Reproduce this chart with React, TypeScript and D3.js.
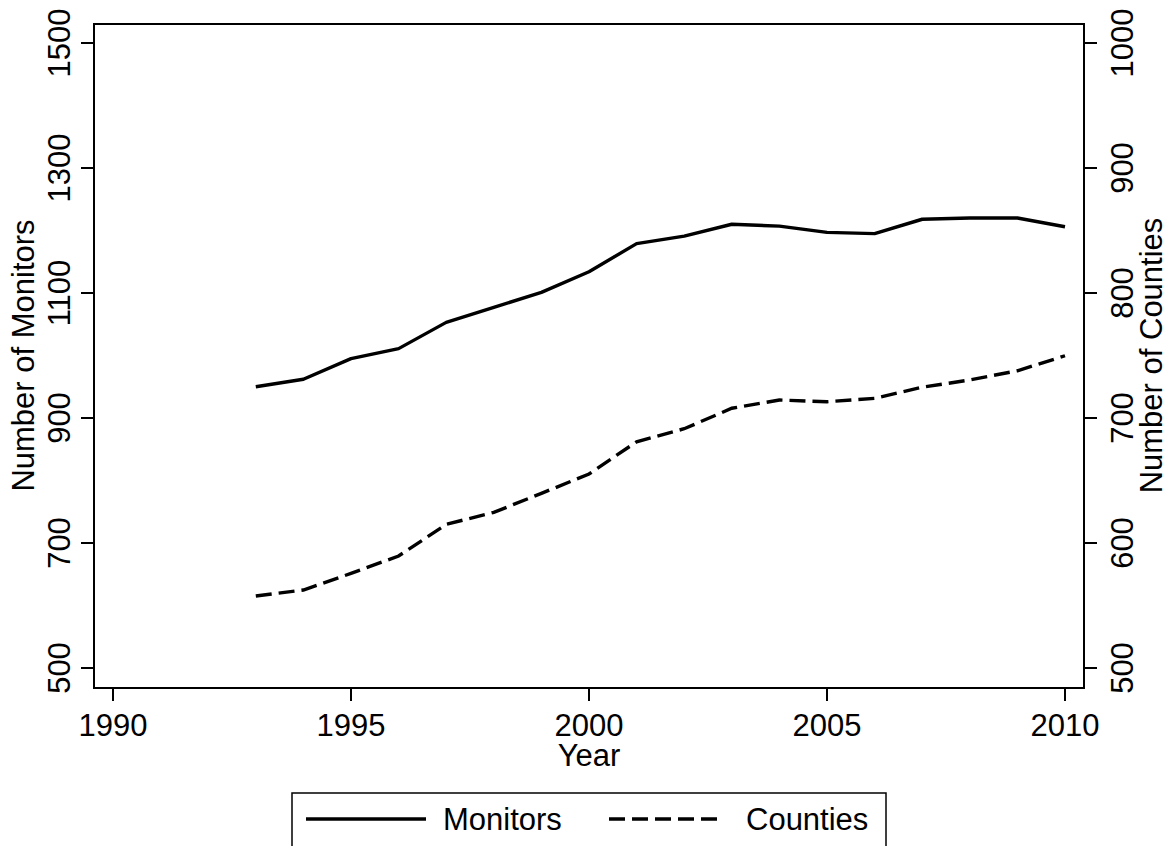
import React from "react";
import * as d3 from "d3";

// Yearly counts
const years = [1993, 1994, 1995, 1996, 1997, 1998, 1999, 2000, 2001, 2002, 2003, 2004, 2005, 2006, 2007, 2008, 2009, 2010];
const monitors = [950, 962, 995, 1011, 1053, 1077, 1101, 1134, 1179, 1191, 1210, 1207, 1197, 1195, 1218, 1220, 1220, 1206];
const counties = [557.6, 562.4, 575.7, 589.6, 614.9, 624.5, 639.7, 655.2, 681, 691.4, 707.8, 714.4, 713, 715.7, 724.6, 730.4, 737.8, 749.8];

const xTicks = [1990, 1995, 2000, 2005, 2010];
const leftTicks = [500, 700, 900, 1100, 1300, 1500];
const rightTicks = [500, 600, 700, 800, 900, 1000];

const W = 1172;
const H = 846;
const FONT = "'Liberation Sans', Arial, Helvetica, sans-serif";
const FS = 31;

// plot frame
const frame = { left: 94, right: 1084, top: 24, bottom: 688 };

export default function App() {
  const x = d3.scaleLinear().domain([1990, 2010]).range([113, 1065]);
  const yL = d3.scaleLinear().domain([500, 1500]).range([668, 43]);
  const yR = d3.scaleLinear().domain([500, 1000]).range([668, 43]);

  const monitorLine = d3
    .line<number>()
    .x((_, i) => x(years[i]))
    .y((d) => yL(d))(monitors) as string;
  const countyLine = d3
    .line<number>()
    .x((_, i) => x(years[i]))
    .y((d) => yR(d))(counties) as string;

  const midY = (yL(500) + yL(1500)) / 2;
  const midX = (frame.left + frame.right) / 2;

  const legend = { left: 292, right: 886, top: 793, bottom: 870 };
  const legY = 819;

  return (
    <svg
      width={W}
      height={H}
      style={{ position: "absolute", left: 0, top: 0, background: "#fff" }}
      fontFamily={FONT}
      fontSize={FS}
    >
      <rect x={0} y={0} width={W} height={H} fill="#fff" />

      {/* frame */}
      <rect
        x={frame.left}
        y={frame.top}
        width={frame.right - frame.left}
        height={frame.bottom - frame.top}
        fill="none"
        stroke="#000"
        strokeWidth={2}
      />

      {/* x axis */}
      {xTicks.map((t) => (
        <g key={"x" + t}>
          <line x1={x(t)} x2={x(t)} y1={frame.bottom} y2={frame.bottom + 13} stroke="#000" strokeWidth={2} />
          <text x={x(t)} y={736} textAnchor="middle" fill="#000">
            {t}
          </text>
        </g>
      ))}
      <text x={midX} y={766} textAnchor="middle" fill="#000">
        Year
      </text>

      {/* left axis */}
      {leftTicks.map((t) => (
        <g key={"l" + t}>
          <line x1={frame.left - 13} x2={frame.left} y1={yL(t)} y2={yL(t)} stroke="#000" strokeWidth={2} />
          <text
            transform={`translate(70,${yL(t)}) rotate(-90)`}
            textAnchor="middle"
            fill="#000"
          >
            {t}
          </text>
        </g>
      ))}
      <text transform={`translate(34,${midY}) rotate(-90)`} textAnchor="middle" fill="#000">
        Number of Monitors
      </text>

      {/* right axis */}
      {rightTicks.map((t) => (
        <g key={"r" + t}>
          <line x1={frame.right} x2={frame.right + 13} y1={yR(t)} y2={yR(t)} stroke="#000" strokeWidth={2} />
          <text
            transform={`translate(1133,${yR(t)}) rotate(-90)`}
            textAnchor="middle"
            fill="#000"
          >
            {t}
          </text>
        </g>
      ))}
      <text transform={`translate(1162,${midY}) rotate(-90)`} textAnchor="middle" fill="#000">
        Number of Counties
      </text>

      {/* series */}
      <path d={monitorLine} fill="none" stroke="#000" strokeWidth={3.4} strokeLinejoin="round" />
      <path d={countyLine} fill="none" stroke="#000" strokeWidth={3.4} strokeDasharray="16 7" />

      {/* legend */}
      <rect
        x={legend.left}
        y={legend.top}
        width={legend.right - legend.left}
        height={legend.bottom - legend.top}
        fill="#fff"
        stroke="#000"
        strokeWidth={1.5}
      />
      <line x1={306} x2={426} y1={legY} y2={legY} stroke="#000" strokeWidth={3.4} />
      <text x={443} y={legY + 11} fill="#000">
        Monitors
      </text>
      <line x1={609} x2={718} y1={legY} y2={legY} stroke="#000" strokeWidth={3.4} strokeDasharray="16 7" />
      <text x={746} y={legY + 11} fill="#000">
        Counties
      </text>
    </svg>
  );
}
